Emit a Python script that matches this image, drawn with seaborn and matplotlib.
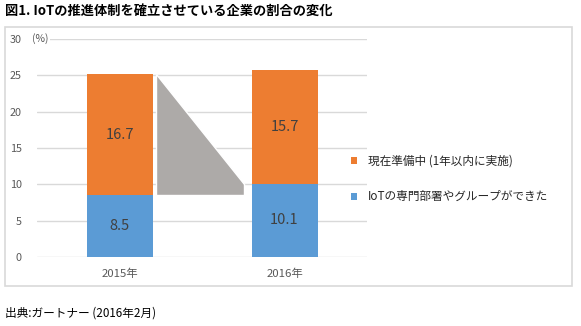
import matplotlib
matplotlib.use("Agg")
import matplotlib.pyplot as plt
from matplotlib.patches import Patch, Polygon, Rectangle
import seaborn as sns
import pandas as pd

# Data
years = ["2015年", "2016年"]
preparing = [16.7, 15.7]          # 現在準備中 (1年以内に実施)
established = [8.5, 10.1]         # IoTの専門部署やグループができた
series_labels = ["現在準備中 (1年以内に実施)", "IoTの専門部署やグループができた"]
yticks = [0, 5, 10, 15, 20, 25, 30]

title = "図1. IoTの推進体制を確立させている企業の割合の変化"
source = "出典:ガートナー (2016年2月)"

ORANGE = "#ED7D31"
BLUE = "#5B9BD5"
GREY_ARROW = "#ADAAA8"
GRID = "#D9D9D9"
TICK = "#595959"

sns.set_theme(style="white")
plt.rcParams["font.family"] = ["Noto Sans CJK JP", "DejaVu Sans"]

df = pd.DataFrame({"year": years, "prep": preparing, "est": established})
df["total"] = df["prep"] + df["est"]

W, H = 581, 326
fig = plt.figure(figsize=(W / 100, H / 100), dpi=100)

# outer frame of the chart area
fig.patches.append(Rectangle((5 / W, 1 - 286 / H), 567 / W, 259 / H,
                             transform=fig.transFigure, fill=False,
                             edgecolor=GRID, linewidth=1.2, zorder=0))

ax = fig.add_axes([37 / W, 1 - 257 / H, 330 / W, 218 / H])

bar_w = 0.4
sns.barplot(data=df, x="year", y="total", color=ORANGE, width=bar_w,
            saturation=1, ax=ax, zorder=3, edgecolor="none")
sns.barplot(data=df, x="year", y="est", color=BLUE, width=bar_w,
            saturation=1, ax=ax, zorder=3, edgecolor="none")

# value labels in each segment
for i, row in df.iterrows():
    ax.text(i, row["est"] / 2, f"{row['est']:.1f}", ha="center", va="center",
            fontsize=10.5, color="#404040", zorder=5)
    ax.text(i, row["est"] + row["prep"] / 2, f"{row['prep']:.1f}", ha="center",
            va="center", fontsize=10.5, color="#404040", zorder=5)

# grey connector between the two years
x_left = 0 + bar_w / 2 + 0.024
x_right = 1 - bar_w / 2 - 0.048
arrow = Polygon([(x_left, df["total"][0]), (x_left, df["est"][0]),
                 (x_right, df["est"][0]), (x_right, df["est"][1])],
                closed=True, facecolor=GREY_ARROW, edgecolor="white",
                linewidth=1.0, zorder=4)
ax.add_patch(arrow)

ax.set_xlim(-0.5, 1.5)
ax.set_ylim(0, 30)
ax.set_yticks(yticks)
ax.set_yticklabels([str(v) for v in yticks])
ax.yaxis.grid(True, color=GRID, linewidth=1.0, zorder=0)
ax.set_axisbelow(True)
for s in ax.spines.values():
    s.set_visible(False)
ax.set_xlabel("")
ax.set_ylabel("")
ax.tick_params(axis="y", length=0, pad=11, labelsize=7.8, labelcolor=TICK)
ax.tick_params(axis="x", length=0, pad=8, labelsize=8.2, labelcolor=TICK)

ax.text(32 / W, 1 - 39 / H, "(%)", transform=fig.transFigure, ha="left",
        va="center", fontsize=7.5, color=TICK, zorder=6,
        bbox=dict(facecolor="white", edgecolor="none", pad=0.8))

handles = [Patch(facecolor=ORANGE, edgecolor="none"),
           Patch(facecolor=BLUE, edgecolor="none")]
fig.legend(handles, series_labels, loc="upper left",
           bbox_to_anchor=(351 / W, 1 - 155 / H), frameon=False,
           fontsize=8.4, handlelength=0.55, handleheight=0.55,
           handletextpad=0.9, labelspacing=1.9, borderaxespad=0,
           borderpad=0)

fig.text(5 / W, 1 - 11 / H, title, ha="left", va="center", fontsize=9.5,
         fontweight="bold", color="black")
fig.text(5 / W, 1 - 313 / H, source, ha="left", va="center", fontsize=8.4,
         color="black")

fig.savefig("out.png", dpi=100)
